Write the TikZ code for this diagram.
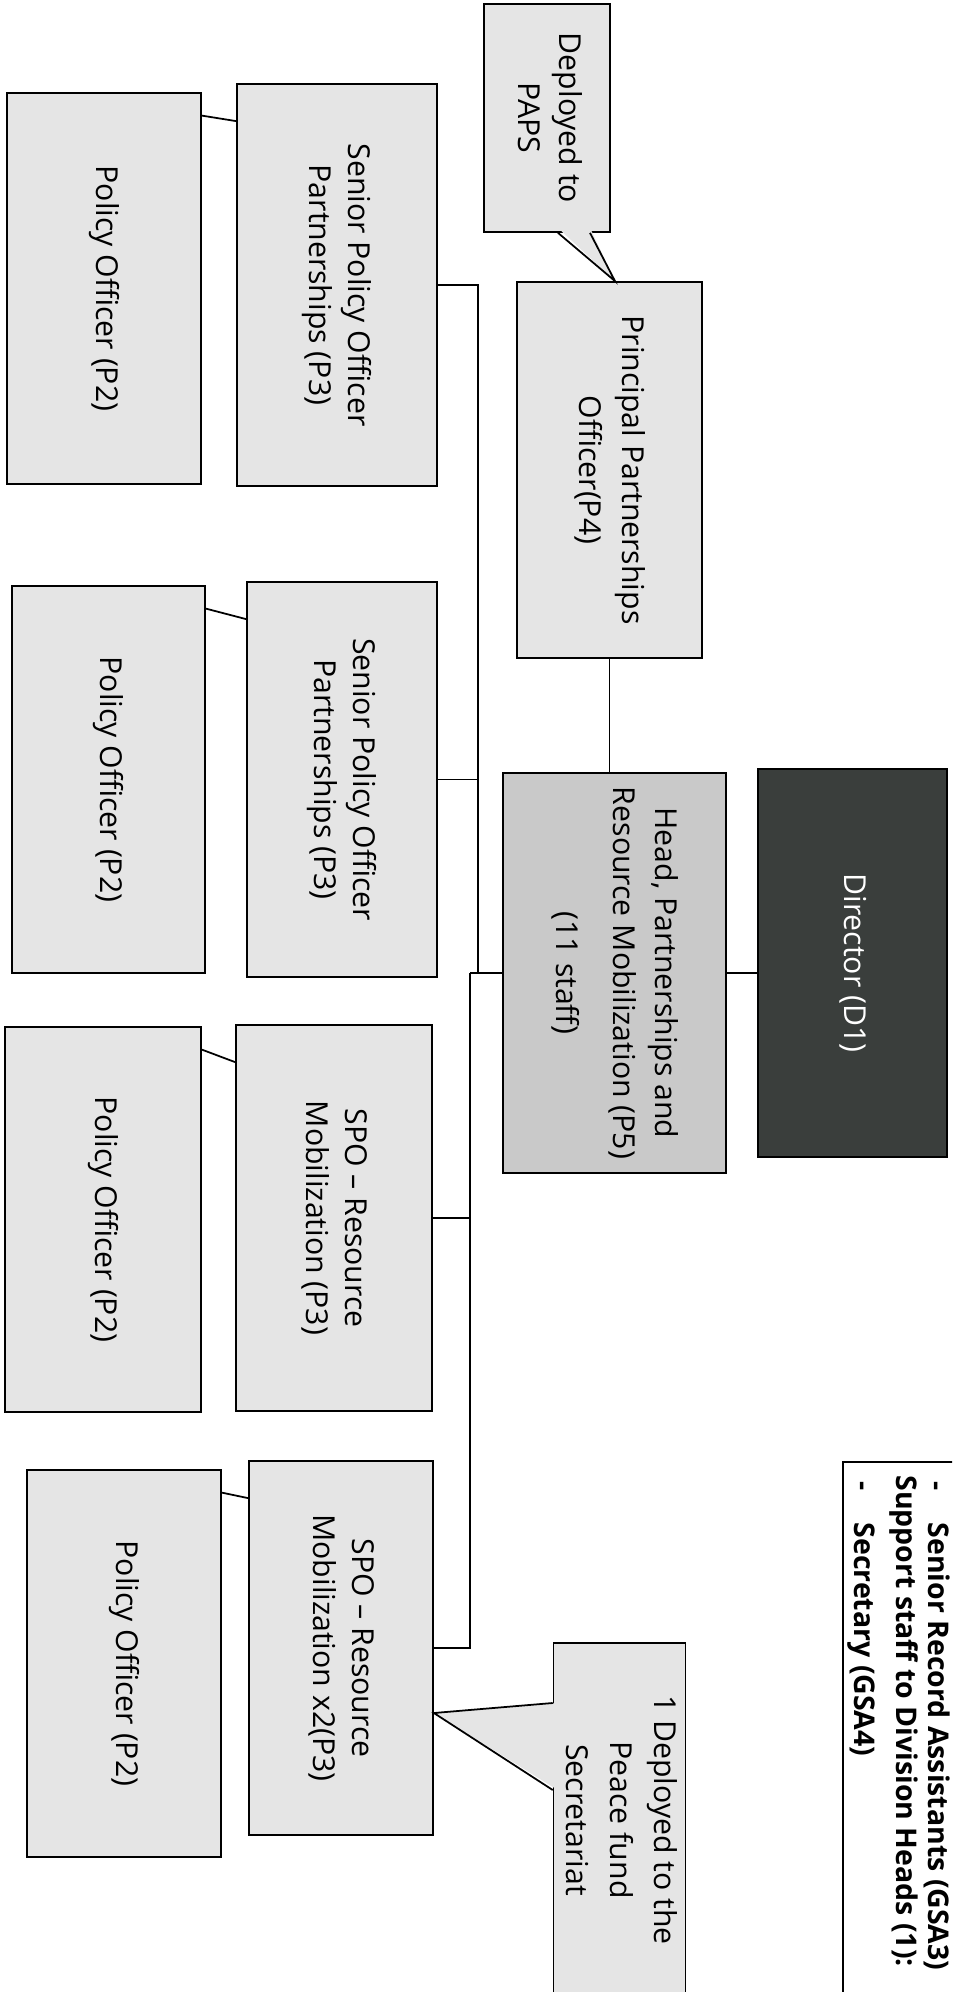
\documentclass[tikz,border=0pt]{standalone}
\usepackage{fontspec}
\setmainfont{Open Sans}
\usepackage{tikz, graphicx}
\usetikzlibrary{calc}
\definecolor{dirfill}{RGB}{58,62,60}
\newcommand{\vtext}[1]{\rotatebox{-90}{\begin{tabular}{@{}c@{}}#1\end{tabular}}}

\begin{document}
\begin{tikzpicture}[x=0.2mm, y=-0.2mm,
			box/.style={draw, line width=1pt, fill=gray!20, inner sep=0pt},
			headbox/.style={box, fill=gray!42},
			dirbox/.style={box, fill=dirfill, text=white},
			conn/.style={line width=1pt},
			font=\fontsize{17.2}{22}\selectfont]
			%Bildbereich
			\useasboundingbox (0,0) rectangle (952,1992);
			\clip (0,0) rectangle (952,1992);
			%Leitung
			\node[dirbox, minimum width=37.8mm, minimum height=77.6mm] (director) at (852.5,963) {\vtext{Director (D1)}};
			\node[headbox, minimum width=44.6mm, minimum height=80mm, font=\fontsize{17.2}{24}\selectfont] (head) at (614.5,973) {\vtext{Head, Partnerships and\\Resource Mobilization (P5)\\[2.8mm](11 staff)}};
			\node[box, minimum width=37mm, minimum height=75.2mm, font=\fontsize{17.2}{24.5}\selectfont] (principal) at (609.5,470) {\vtext{Principal Partnerships\\Officer(P4)}};
			%Partnerships
			\node[box, minimum width=40mm, minimum height=80.4mm] (spoA) at (337,285) {\vtext{Senior Policy Officer\\Partnerships (P3)}};
			\node[box, minimum width=38.8mm, minimum height=78.2mm] (poA) at (104,288.5) {\vtext{Policy Officer (P2)}};
			\node[box, minimum width=38mm, minimum height=79mm] (spoB) at (342,779.5) {\vtext{Senior Policy Officer\\Partnerships (P3)}};
			\node[box, minimum width=38.6mm, minimum height=77.4mm] (poB) at (108.5,779.5) {\vtext{Policy Officer (P2)}};
			%Resource Mobilization
			\node[box, minimum width=39.2mm, minimum height=77.2mm] (spoC) at (334,1218) {\vtext{SPO -- Resource\\Mobilization (P3)}};
			\node[box, minimum width=39.2mm, minimum height=77mm] (poC) at (103,1219.5) {\vtext{Policy Officer (P2)}};
			\node[box, minimum width=36.8mm, minimum height=74.8mm] (spoD) at (341,1648) {\vtext{SPO -- Resource\\Mobilization x2(P3)}};
			\node[box, minimum width=38.8mm, minimum height=77.4mm] (poD) at (124,1663.5) {\vtext{Policy Officer (P2)}};
			%Sprechblasen
			\node[box, minimum width=25.2mm, minimum height=45.6mm, font=\fontsize{17.2}{23.5}\selectfont] (paps) at (547,118) {\vtext{Deployed to\\PAPS}};
			\fill[gray!20] ([xshift=2.2mm,yshift=1mm]paps.south) -- ([xshift=1.1mm]principal.north) -- ([xshift=8.6mm,yshift=1mm]paps.south) -- cycle;
			\draw[conn] ([xshift=2.2mm]paps.south) -- ([xshift=1.1mm]principal.north) -- ([xshift=8.6mm]paps.south);
			\node[box, minimum width=25mm, minimum height=70.8mm, font=\fontsize{17.2}{25}\selectfont] (peace) at (619.5,1820) {\vtext{1 Deployed to the\\Peace fund\\Secretariat}};
			\coordinate (peacetip) at ([yshift=-13mm]spoD.east);
			\fill[gray!20] ([xshift=1mm,yshift=23.4mm]peace.west) -- (peacetip) -- ([xshift=1mm,yshift=6mm]peace.west) -- cycle;
			\draw[conn] ([yshift=23.4mm]peace.west) -- (peacetip) -- ([yshift=6mm]peace.west);
			%Support staff
			\node[draw, line width=1pt, fill=white, minimum width=26.4mm, minimum height=109.6mm] (support) at (909,1736) {};
			\node[anchor=north east, inner sep=0pt, font=\bfseries\fontsize{16.2}{18.2}\selectfont] (supptext) at (951,1475) {\rotatebox{-90}{\begin{tabular}{@{}l@{}}\hspace*{0.22em}\makebox[1.44em][l]{-}Senior Record Assistants (GSA3)\\Support staff to Division Heads (1):\\[2mm]\hspace*{0.22em}\makebox[1.44em][l]{-}Secretary (GSA4)\end{tabular}}};
			%Verbindungen
			\coordinate (trunkA) at (478,973);
			\coordinate (trunkB) at (470,973);
			\draw[conn] (head.east) -- (head.east -| director.west);
			\draw[conn] (principal.south) -- (principal.south |- head.north);
			\draw[conn] (head.west) -- (trunkB);
			\draw[conn] (spoA.east) -| (trunkA);
			\draw[conn] (spoB.east) -- (spoB.east -| trunkA);
			\draw[conn] (spoC.east) -- (spoC.east -| trunkB);
			\draw[conn] (trunkB) |- (spoD.east);
			\foreach \r in {A,B,C,D}
				\draw[conn] ([yshift=-4.7mm]po\r.north east) -- ([yshift=-7.6mm]spo\r.north west);
		\end{tikzpicture}
\end{document}
